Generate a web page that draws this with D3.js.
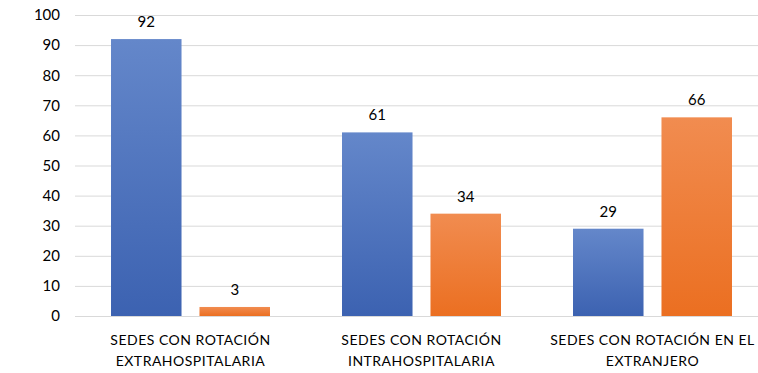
<!DOCTYPE html>
<html>
<head>
<meta charset="utf-8">
<script src="https://cdn.jsdelivr.net/npm/d3@7"></script>
<style>
  html, body { margin: 0; padding: 0; background: #fff; }
  svg { display: block; font-family: Lato, "Open Sans", sans-serif; }
</style>
</head>
<body>
<svg id="chart" width="758" height="373"></svg>
<script>
const categories = [
  ["SEDES CON ROTACIÓN", "EXTRAHOSPITALARIA"],
  ["SEDES CON ROTACIÓN", "INTRAHOSPITALARIA"],
  ["SEDES CON ROTACIÓN EN EL", "EXTRANJERO"]
];
const seriesNames = ["Serie 1", "Serie 2"];
const serie1 = [92, 61, 29];
const serie2 = [3, 34, 66];
const yTicks = [0, 10, 20, 30, 40, 50, 60, 70, 80, 90, 100];

(function () {
const svg = d3.select("#chart");
const W = 758;
const mLeft = 75, mRight = 768, mTop = 15, mBottom = 316;

const catKeys = categories.map((c, i) => i);
const x0 = d3.scaleBand().domain(catKeys).range([mLeft, mRight]).paddingInner(0).paddingOuter(0);
const x1 = d3.scaleBand().domain(seriesNames).range([0, x0.bandwidth()]).paddingInner(0.203).paddingOuter(0.407);
const y = d3.scaleLinear().domain([0, 100]).range([mBottom, mTop]);

const defs = svg.append("defs");
const grads = [
  { id: "gBlue", c1: "#6487ca", c2: "#3c62b1" },
  { id: "gOrange", c1: "#f18c50", c2: "#eb6f21" }
];
grads.forEach(g => {
  const lg = defs.append("linearGradient").attr("id", g.id)
    .attr("x1", 0).attr("y1", 0).attr("x2", 0).attr("y2", 1);
  lg.append("stop").attr("offset", "0%").attr("stop-color", g.c1);
  lg.append("stop").attr("offset", "100%").attr("stop-color", g.c2);
});

// gridlines
const yAxis = d3.axisLeft(y).tickValues(yTicks).tickSize(-(W - mLeft)).tickPadding(15);
const gy = svg.append("g").attr("transform", `translate(${mLeft},0)`).call(yAxis);
gy.select(".domain").remove();
gy.selectAll(".tick line").attr("stroke", "#d9d9d9").attr("stroke-width", 1);
gy.selectAll(".tick text").attr("fill", "#000").attr("font-size", 15).attr("font-family", "Lato, 'Open Sans', sans-serif");

// bars
const data = catKeys.map(i => ({ i, vals: [serie1[i], serie2[i]] }));
const groups = svg.append("g").selectAll("g").data(data).join("g")
  .attr("transform", d => `translate(${x0(d.i)},0)`);
groups.selectAll("rect").data(d => d.vals.map((v, k) => ({ v, k }))).join("rect")
  .attr("x", d => x1(seriesNames[d.k]))
  .attr("width", x1.bandwidth())
  .attr("y", d => y(d.v))
  .attr("height", d => y(0) - y(d.v))
  .attr("fill", d => d.k === 0 ? "url(#gBlue)" : "url(#gOrange)");
groups.selectAll("text.val").data(d => d.vals.map((v, k) => ({ v, k }))).join("text")
  .attr("class", "val")
  .attr("x", d => x1(seriesNames[d.k]) + x1.bandwidth() / 2)
  .attr("y", d => y(d.v) - 12)
  .attr("text-anchor", "middle")
  .attr("font-size", 15)
  .attr("fill", "#000")
  .text(d => d.v);

// category labels
const xAxis = svg.append("g");
catKeys.forEach(i => {
  const cx = x0(i) + x1(seriesNames[0]) + (x1(seriesNames[1]) + x1.bandwidth() - x1(seriesNames[0])) / 2;
  const t = xAxis.append("text").attr("text-anchor", "middle").attr("font-size", 14).attr("fill", "#000")
    .attr("letter-spacing", 0.5);
  categories[i].forEach((line, li) => {
    t.append("tspan").attr("x", cx).attr("y", 345 + li * 21).text(line);
  });
});
})();
</script>
</body>
</html>
